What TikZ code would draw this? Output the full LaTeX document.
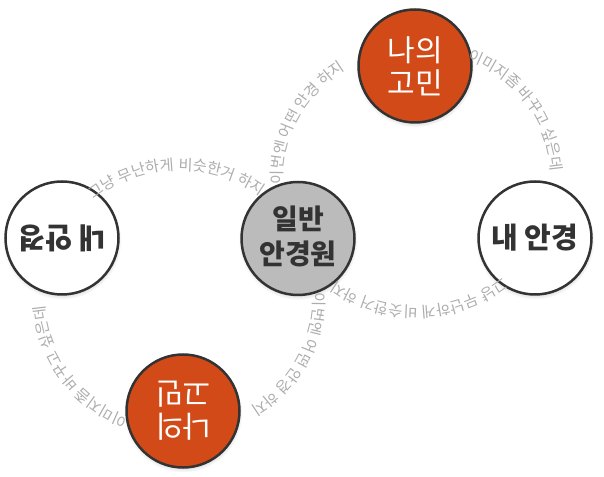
\documentclass[tikz,border=0pt]{standalone}
\usepackage{fontspec}
\setmainfont{Noto Sans CJK KR}
\usetikzlibrary{decorations.text,shadows}
\definecolor{orangeC}{HTML}{D24A18}
\definecolor{grayC}{HTML}{BBBBBB}
\definecolor{borderC}{HTML}{333333}
\definecolor{arcC}{HTML}{ADADAD}
\definecolor{darkT}{HTML}{333333}
\newcommand{\arcfont}{\fontsize{15.3}{17}\selectfont}
\tikzset{
  bubble/.style={circle, draw=borderC, line width=2.5pt, minimum size=113pt, inner sep=0pt,
    circular drop shadow={shadow xshift=0pt, shadow yshift=-2pt, shadow scale=1.05, opacity=0.4}},
  arctext/.style={decorate, decoration={text along path, text align=left, text color=arcC,
    text={|\arcfont|#1}}},
  darktext/.style={align=center, font=\fontsize{28}{35}\selectfont\bfseries, text=darkT, inner sep=0pt},
  worrytext/.style={align=center, font=\fontsize{30}{33}\selectfont, text=white, inner sep=0pt},
}
\begin{document}
\begin{tikzpicture}[x=1pt,y=1pt]
\useasboundingbox (0,0) rectangle (604,476);
\coordinate (U) at (417,297.5);
\coordinate (D) at (179,177.5);
% circles
\node[bubble, fill=grayC] (C) at (298,237.5) {};
\node[bubble, fill=orangeC] (T) at (415,410) {};
\node[bubble, fill=white] (R) at (535,238) {};
\node[bubble, fill=white] (L) at (62,238) {};
\node[bubble, fill=orangeC] (B) at (183,65) {};
% texts in circles
\node[darktext] (Ctxt) at ([yshift=2pt]C) {일반\\안경원};
\node[worrytext] (Ttxt) at (T) {나의\\고민};
\node[darktext, font=\fontsize{29}{35}\selectfont\bfseries] (Rtxt) at (R) {내 안경};
\node[darktext, font=\fontsize{29}{35}\selectfont\bfseries, rotate=180] (Ltxt) at (L) {내 안경};
\node[worrytext, rotate=180] (Btxt) at (B) {나의\\고민};
% arc texts, upper half
\path[arctext={이번엔 어떤 안경 하지}, shift={(U)}] (182.5:134.5pt and 128pt) arc[start angle=182.5, end angle=100, x radius=134.5pt, y radius=128pt];
\path[arctext={이미지좀 바꾸고 싶은데}, shift={(U)}] (68:134.5pt and 128pt) arc[start angle=68, end angle=-20, x radius=134.5pt, y radius=128pt];
\path[arctext={그냥 무난하게 비슷한거 하지}, shift={(D)}] (129.5:134.5pt and 128pt) arc[start angle=129.5, end angle=40, x radius=134.5pt, y radius=128pt];
% arc texts, lower half (same texts turned by 180 degrees about the centre)
\path[arctext={이번엔 어떤 안경 하지}, shift={(D)}] (2.5:134.5pt and 128pt) arc[start angle=2.5, end angle=-80, x radius=134.5pt, y radius=128pt];
\path[arctext={이미지좀 바꾸고 싶은데}, shift={(D)}] (248:134.5pt and 128pt) arc[start angle=248, end angle=160, x radius=134.5pt, y radius=128pt];
\path[arctext={그냥 무난하게 비슷한거 하지}, shift={(U)}] (309.5:134.5pt and 128pt) arc[start angle=309.5, end angle=220, x radius=134.5pt, y radius=128pt];
\end{tikzpicture}
\end{document}
